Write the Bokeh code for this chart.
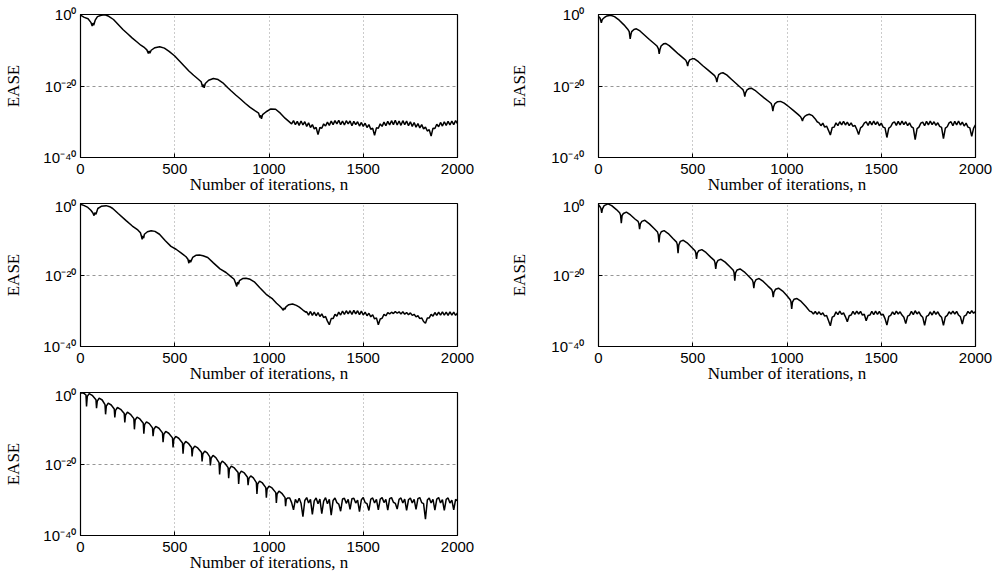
from bokeh.plotting import figure
from bokeh.layouts import column, row
from bokeh.models import Range1d, FixedTicker, ColumnDataSource
from bokeh.embed import file_html
from bokeh.resources import INLINE

# ---------------- data (log10 of EASE) ----------------
x_ticks = [0, 500, 1000, 1500, 2000]
y_ticks = [1e-40, 1e-20, 1.0]
y_tick_labels = {1e-40: "10⁻⁴⁰", 1e-20: "10⁻²⁰", 1.0: "10⁰"}
x_label = "Number of iterations, n"
y_label = "EASE"
floor_step = 10

# panel 1 (top left)
p1_decay = [(0, -0.2), (20, -0.8), (40, -1.2), (55, -2.2), (62, -3.2), (66, -2.4), (70, -3.0),
            (78, -1.6), (90, -0.6), (110, -0.2), (130, -0.1), (150, -0.5), (175, -1.4), (200, -2.8),
            (225, -4.2), (250, -5.4), (275, -6.6), (300, -7.7), (320, -8.6), (340, -9.3), (352, -9.9),
            (360, -10.9), (364, -10.2), (368, -10.8), (375, -10.0), (395, -9.3), (420, -9.0),
            (445, -9.4), (470, -10.3), (500, -11.6), (525, -13.0), (550, -14.4), (575, -15.8),
            (600, -17.0), (625, -18.1), (640, -18.8), (648, -20.3), (652, -19.6), (656, -20.5),
            (662, -19.3), (680, -18.4), (705, -17.9), (730, -18.2), (755, -19.1), (780, -20.4),
            (800, -21.4), (825, -22.6), (850, -23.7), (875, -24.9), (900, -26.0), (925, -26.9),
            (945, -27.6), (952, -28.8), (956, -28.2), (960, -29.2), (966, -28.0), (985, -27.2),
            (1010, -26.4), (1035, -26.5), (1060, -27.6), (1085, -29.0), (1105, -29.9)]
p1_floor_start = 1120
p1_floor = [-30.6, -29.7, -30.8, -29.9, -31.0, -29.8, -30.9, -30.0, -31.3, -30.3,
            -31.6, -30.8, -32.0, -31.6, -33.6, -31.6, -31.8, -30.6, -31.2, -30.1,
            -31.0, -29.8, -30.8, -29.7, -30.6, -29.6, -30.8, -29.8, -30.9, -29.7,
            -30.6, -29.8, -31.1, -29.9, -30.8, -30.0, -31.2, -30.2, -31.3, -30.4,
            -31.6, -30.8, -32.1, -31.8, -33.8, -31.7, -31.8, -30.6, -31.3, -30.1,
            -31.1, -29.9, -30.9, -29.7, -30.8, -29.6, -30.9, -29.8, -31.0, -29.7,
            -30.8, -29.8, -31.1, -30.0, -31.3, -30.2, -31.5, -30.5, -31.7, -30.8,
            -32.0, -31.5, -32.6, -32.2, -34.0, -31.8, -31.9, -30.7, -31.4, -30.2,
            -31.2, -30.0, -31.0, -29.9, -30.9, -29.8, -30.8, -29.7, -30.5]

# panel 2 (top right)
p2_decay = [(0, -0.6), (8, -1.0), (15, -2.3), (20, -1.4), (30, -0.9), (45, -0.4), (64, -0.2),
            (85, -0.6), (110, -1.6), (135, -2.9), (155, -4.1), (163, -4.8), (168, -6.8), (172, -5.6),
            (176, -4.8), (188, -4.2), (201, -4.0), (220, -4.6), (245, -5.8), (270, -7.0), (295, -8.1),
            (310, -8.8), (318, -9.6), (322, -11.0), (326, -9.8), (332, -8.8), (345, -8.2), (356, -8.1),
            (375, -8.7), (400, -9.9), (425, -11.1), (450, -12.2), (463, -12.8), (469, -13.5),
            (473, -14.4), (477, -13.4), (484, -12.7), (497, -12.4), (509, -12.4), (530, -13.2),
            (555, -14.4), (580, -15.5), (605, -16.6), (616, -17.1), (624, -17.9), (628, -18.9),
            (632, -17.8), (638, -16.8), (650, -16.4), (660, -16.3), (680, -16.9), (705, -18.1),
            (730, -19.3), (755, -20.5), (766, -21.0), (772, -21.8), (776, -23.0), (780, -21.9),
            (788, -21.1), (800, -20.7), (811, -20.6), (830, -21.2), (855, -22.3), (880, -23.4),
            (905, -24.4), (916, -24.9), (921, -25.7), (925, -27.0), (929, -25.8), (936, -24.9),
            (950, -24.4), (966, -24.3), (985, -24.8), (1010, -25.8), (1035, -26.9), (1060, -28.0),
            (1072, -28.6), (1078, -29.2), (1082, -29.8), (1086, -29.1), (1094, -28.5), (1106, -28.1),
            (1118, -27.9), (1135, -28.3), (1150, -29.2), (1160, -30.0)]
p2_floor_start = 1170
p2_floor = [-30.3, -31.1, -30.4, -31.5, -31.2, -32.4, -33.7, -31.6, -31.5, -30.3,
            -31.1, -30.0, -30.9, -29.9, -30.9, -30.1, -31.1, -30.3, -31.3, -31.0,
            -32.1, -33.6, -31.7, -31.3, -30.4, -30.0, -31.0, -29.9, -30.9, -29.8,
            -30.8, -30.0, -31.1, -30.4, -31.5, -31.7, -34.4, -31.8, -31.4, -30.4,
            -30.0, -31.0, -29.9, -30.9, -29.8, -30.8, -30.0, -31.1, -30.3, -31.4,
            -31.7, -35.0, -31.9, -31.5, -30.4, -30.1, -31.1, -29.9, -30.9, -29.8,
            -30.8, -30.0, -31.0, -30.3, -31.3, -31.6, -34.7, -31.8, -31.4, -30.3,
            -30.0, -31.1, -29.9, -30.9, -29.8, -30.9, -30.1, -31.2, -30.4, -31.5,
            -31.7, -34.1, -31.8, -30.9]

# panel 3 (middle left)
p3_decay = [(0, -0.2), (20, -0.6), (39, -1.1), (55, -1.9), (65, -2.6), (72, -3.4), (76, -2.6),
            (82, -3.0), (92, -1.4), (110, -0.8), (136, -0.6), (155, -0.9), (171, -1.4), (200, -2.8),
            (242, -4.8), (275, -6.3), (304, -7.4), (318, -8.2), (324, -9.3), (327, -10.0), (331, -9.1),
            (335, -9.7), (339, -8.6), (355, -7.9), (375, -7.6), (395, -7.8), (419, -8.6), (450, -10.4),
            (480, -12.0), (507, -12.8), (535, -13.9), (560, -14.9), (570, -15.6), (575, -16.7),
            (579, -15.8), (584, -16.4), (595, -15.1), (612, -14.5), (631, -14.4), (650, -14.6),
            (675, -15.1), (705, -16.6), (740, -18.3), (772, -19.3), (795, -20.3), (815, -21.2),
            (823, -22.3), (829, -23.2), (833, -22.0), (838, -22.6), (843, -21.6), (860, -21.0),
            (878, -20.9), (900, -21.2), (922, -21.9), (950, -23.5), (985, -25.4), (1019, -26.7),
            (1040, -27.9), (1055, -28.6), (1068, -29.3), (1076, -29.9), (1080, -29.2), (1085, -29.6),
            (1090, -28.9), (1105, -28.3), (1125, -28.1), (1145, -28.5), (1161, -29.0), (1180, -29.8),
            (1195, -30.4)]
p3_floor_start = 1200
p3_floor = [-30.3, -31.2, -30.2, -31.3, -30.4, -31.4, -30.5, -31.6, -30.9, -31.9,
            -31.6, -32.9, -33.9, -32.2, -32.2, -31.0, -31.5, -30.4, -31.2, -30.1,
            -31.0, -30.0, -30.9, -30.0, -31.0, -29.9, -30.9, -30.0, -31.1, -30.1,
            -31.2, -30.4, -31.4, -30.7, -31.7, -31.1, -32.3, -32.0, -33.9, -32.3,
            -32.1, -31.0, -31.4, -30.5, -30.9, -30.4, -30.8, -30.2, -30.7, -30.3,
            -30.9, -30.3, -31.0, -30.5, -31.1, -30.6, -31.3, -31.0, -31.7, -31.4,
            -32.2, -32.0, -33.0, -33.5, -32.0, -32.0, -31.0, -31.5, -30.5, -31.3,
            -30.4, -31.2, -30.3, -31.2, -30.4, -31.3, -30.3, -31.2, -30.4, -31.3,
            -30.6]

# panel 4 (middle right)
p4_decay = [(0, -0.3), (8, -0.9), (13, -1.4), (17, -2.6), (21, -1.5), (30, -0.6), (50, -0.1),
            (70, -0.6), (95, -1.7), (112, -2.6), (117, -3.2), (121, -5.5), (125, -3.4), (132, -2.8),
            (148, -2.4), (170, -3.2), (195, -4.4), (210, -5.0), (214, -5.6), (218, -7.2), (222, -5.7),
            (230, -5.0), (246, -4.7), (270, -5.7), (295, -7.0), (313, -8.0), (317, -8.7), (321, -10.9),
            (325, -8.8), (333, -7.9), (348, -7.6), (370, -8.4), (395, -9.8), (414, -10.8), (418, -11.5),
            (422, -13.9), (426, -11.6), (434, -10.6), (450, -10.3), (470, -11.0), (495, -12.3),
            (512, -13.2), (516, -13.8), (520, -15.5), (524, -13.9), (532, -13.2), (548, -12.9),
            (570, -13.7), (595, -15.0), (614, -15.9), (618, -16.6), (622, -18.3), (626, -16.7),
            (634, -15.9), (650, -15.6), (672, -16.4), (697, -17.7), (715, -18.7), (719, -19.3),
            (723, -21.6), (727, -19.4), (735, -18.6), (751, -18.3), (773, -19.1), (798, -20.4),
            (816, -21.4), (820, -22.0), (824, -23.7), (828, -22.1), (836, -21.3), (852, -21.0),
            (874, -21.8), (899, -23.1), (919, -24.1), (923, -24.7), (927, -26.2), (931, -24.8),
            (939, -24.0), (955, -23.7), (977, -24.5), (1000, -25.8), (1017, -26.9), (1021, -27.5),
            (1025, -29.5), (1029, -27.6), (1037, -26.8), (1053, -26.6), (1075, -27.4), (1100, -28.8),
            (1120, -30.1)]
p4_floor_start = 1130
p4_floor = [-30.3, -30.9, -30.2, -31.0, -30.3, -31.1, -30.6, -31.5, -31.3, -32.7,
            -34.2, -31.8, -31.5, -30.3, -31.1, -30.1, -31.0, -30.6, -31.7, -33.1,
            -31.4, -31.2, -30.2, -31.0, -30.1, -30.9, -30.2, -31.2, -31.0, -32.8,
            -31.3, -31.2, -30.2, -31.1, -30.1, -31.0, -30.2, -31.2, -31.0, -32.2,
            -34.0, -31.6, -31.3, -30.3, -31.1, -30.1, -30.9, -30.3, -31.2, -31.8,
            -33.6, -31.5, -31.2, -30.2, -31.1, -30.0, -30.9, -30.3, -31.3, -31.8,
            -34.1, -31.6, -31.3, -30.3, -31.2, -30.1, -31.0, -30.3, -31.3, -31.8,
            -34.1, -31.7, -31.3, -30.3, -30.9, -30.1, -30.9, -30.2, -31.2, -31.7,
            -33.7, -31.5, -31.2, -30.2, -30.8, -30.0, -30.7, -30.2]

# panel 5 (bottom left)
p5_decay = [(0, -0.2), (10, -0.1), (20, -0.3),
            (29, -0.7), (32, -3.9), (36, -1.1), (46, -0.3), (62, -0.8),
            (82, -2.0), (85, -4.4), (89, -2.4), (99, -1.6), (115, -2.1),
            (130, -3.4), (133, -6.1), (137, -3.8), (147, -3.0), (163, -3.5),
            (179, -4.6), (182, -7.0), (186, -5.0), (196, -4.2), (213, -4.7),
            (232, -5.9), (235, -8.4), (239, -6.3), (249, -5.5), (265, -6.1),
            (283, -7.3), (286, -10.3), (290, -7.7), (300, -6.9), (315, -7.4),
            (333, -8.6), (336, -11.5), (340, -9.0), (350, -8.2), (365, -8.7),
            (382, -9.9), (385, -12.2), (389, -10.3), (399, -9.5), (416, -10.0),
            (435, -11.3), (438, -13.9), (442, -11.7), (452, -10.9), (468, -11.4),
            (488, -12.7), (491, -15.4), (495, -13.1), (505, -12.3), (521, -12.8),
            (541, -14.1), (544, -17.1), (548, -14.5), (558, -13.7), (572, -14.2),
            (589, -15.4), (592, -17.9), (596, -15.8), (606, -15.0), (622, -15.5),
            (642, -16.8), (645, -19.3), (649, -17.2), (659, -16.4), (672, -16.9),
            (686, -18.0), (689, -20.4), (693, -18.4), (703, -17.6), (718, -18.2),
            (735, -19.6), (738, -22.9), (742, -20.0), (752, -19.2), (766, -19.8),
            (783, -21.0), (786, -24.0), (790, -21.4), (800, -20.6), (816, -21.1),
            (836, -22.4), (839, -25.6), (843, -22.8), (853, -22.0), (869, -22.5),
            (886, -23.7), (889, -25.9), (893, -24.1), (903, -23.3), (917, -23.9),
            (933, -25.2), (936, -28.4), (940, -25.6), (950, -24.8), (965, -25.3),
            (983, -26.6), (986, -29.4), (990, -27.0), (1000, -26.2), (1016, -26.7),
            (1036, -28.0), (1039, -30.9), (1043, -28.4), (1053, -27.6), (1068, -28.2),
            (1085, -29.4), (1088, -31.8), (1092, -29.8), (1100, -29.5)]
p5_floor_start = 1110
p5_floor = [-29.5, -30.8, -32.8, -29.9, -30.9, -29.6, -31.0, -34.7, -30.2, -29.4,
            -30.9, -29.9, -34.1, -30.3, -29.5, -31.1, -29.8, -33.9, -30.4, -29.4,
            -31.1, -29.9, -34.3, -30.2, -29.5, -30.8, -31.2, -33.2, -29.8, -29.6,
            -31.0, -29.9, -32.7, -29.7, -29.6, -30.9, -30.1, -33.3, -30.0, -29.4,
            -30.8, -31.1, -33.0, -29.8, -29.5, -30.9, -29.9, -32.8, -29.8, -29.4,
            -30.8, -29.9, -32.9, -29.7, -29.4, -30.7, -31.0, -32.6, -29.9, -29.5,
            -30.9, -29.8, -33.0, -30.0, -29.5, -30.9, -29.9, -32.7, -29.7, -29.4,
            -30.8, -31.1, -35.4, -30.1, -29.5, -30.9, -29.9, -32.9, -29.8, -29.4,
            -30.9, -30.0, -33.0, -29.9, -29.5, -30.9, -30.1, -32.8, -29.9, -30.3]


def series(decay, floor_start, floor_exp):
    n = [d[0] for d in decay] + [floor_start + floor_step * i for i in range(len(floor_exp))]
    ex = [d[1] for d in decay] + list(floor_exp)
    return ColumnDataSource(dict(n=n, ease=[10.0 ** v for v in ex]))


TICK_FONT = "Liberation Sans"
LABEL_FONT = "Liberation Serif"


def panel(src, left, right, top, ystand, ylabstand):
    p = figure(frame_width=377, frame_height=143,
               min_border_left=left, min_border_right=right,
               min_border_top=top, min_border_bottom=40,
               x_range=Range1d(0, 2000), y_range=Range1d(1e-40, 1.0),
               y_axis_type="log", output_backend="svg", toolbar_location=None,
               background_fill_color="white", border_fill_color="white")
    p.line("n", "ease", source=src, line_color="black", line_width=1.5)
    p.outline_line_color = "black"
    p.outline_line_width = 1.2
    p.outline_line_alpha = 1.0

    p.xaxis.ticker = FixedTicker(ticks=x_ticks)
    p.yaxis.ticker = FixedTicker(ticks=y_ticks, minor_ticks=[])
    p.yaxis.major_label_overrides = y_tick_labels
    for ax in (p.xaxis[0], p.yaxis[0]):
        ax.axis_line_color = "black"
        ax.major_tick_in = 4
        ax.major_tick_out = 0
        ax.minor_tick_in = 0
        ax.minor_tick_out = 0
        ax.major_tick_line_color = "black"
        ax.major_label_text_font = TICK_FONT
        ax.major_label_text_font_size = "15px"
        ax.major_label_text_color = "black"
        ax.axis_label_text_font = LABEL_FONT
        ax.axis_label_text_font_size = "17px"
        ax.axis_label_text_font_style = "normal"
        ax.axis_label_text_color = "black"
    p.xaxis.axis_label = x_label
    p.yaxis.axis_label = y_label
    p.xaxis.major_label_standoff = 6
    p.xaxis.axis_label_standoff = -2
    p.yaxis.major_label_standoff = ystand
    p.yaxis.axis_label_standoff = ylabstand

    p.xgrid.ticker = FixedTicker(ticks=x_ticks)
    p.ygrid.ticker = FixedTicker(ticks=y_ticks, minor_ticks=[])
    for g in (p.xgrid[0], p.ygrid[0]):
        g.grid_line_color = "#8c8c8c"
        g.grid_line_dash = "1 3"
        g.grid_line_width = 1
        g.grid_line_alpha = 0.9
    p.ygrid.grid_line_dash = "3 3"
    return p


f1 = panel(series(p1_decay, p1_floor_start, p1_floor), 80, 30, 14, 4, 17)
f2 = panel(series(p2_decay, p2_floor_start, p2_floor), 111, 22, 14, 14, 19)
f3 = panel(series(p3_decay, p3_floor_start, p3_floor), 80, 30, 6, 4, 17)
f4 = panel(series(p4_decay, p4_floor_start, p4_floor), 111, 22, 6, 14, 19)
f5 = panel(series(p5_decay, p5_floor_start, p5_floor), 80, 30, 6, 4, 17)

layout = column(row(f1, f2), row(f3, f4), row(f5))
open("out.html", "w").write(file_html(layout, INLINE))
